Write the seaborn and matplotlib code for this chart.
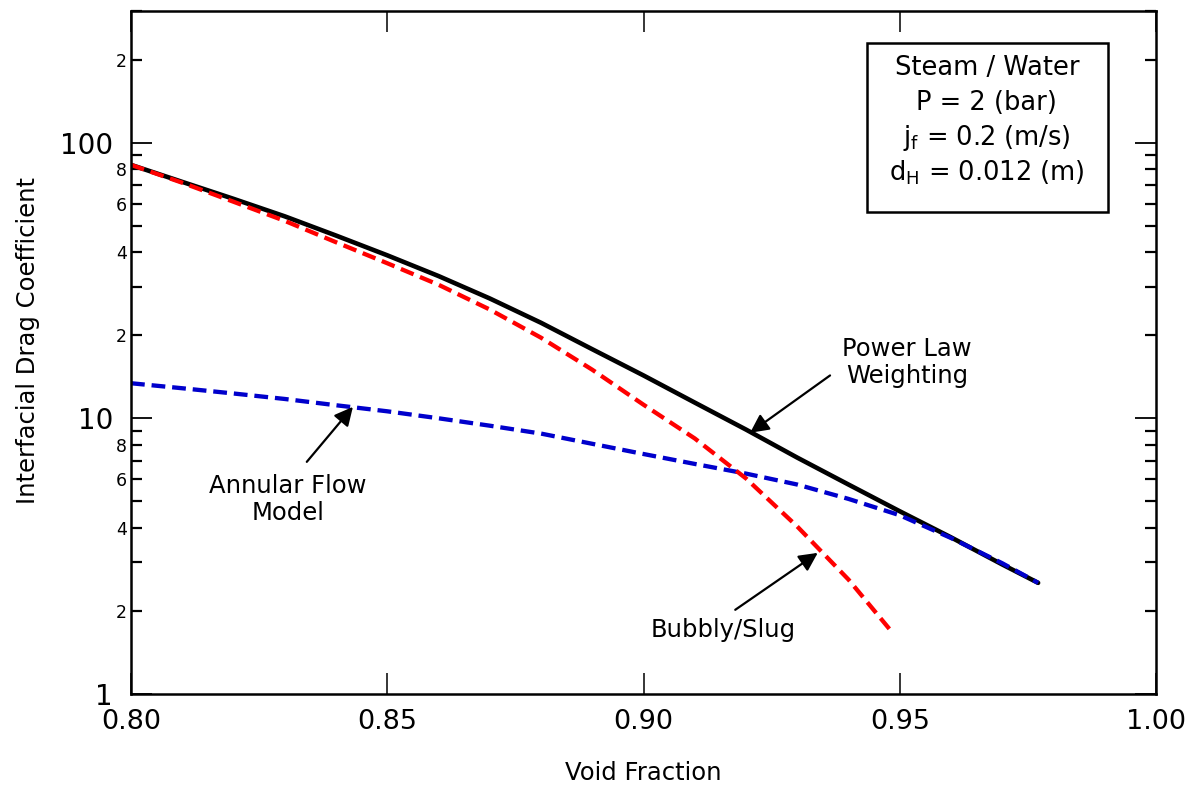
import numpy as np
import pandas as pd
import matplotlib
matplotlib.use("Agg")
import matplotlib.pyplot as plt
from matplotlib.ticker import LogLocator, FuncFormatter, FixedLocator
from matplotlib.patches import Rectangle
import seaborn as sns

# ---- data ----
power_law_x = [0.800, 0.810, 0.820, 0.830, 0.840, 0.850, 0.860, 0.870, 0.880, 0.890,
               0.900, 0.910, 0.920, 0.930, 0.940, 0.950, 0.960, 0.970, 0.977]
power_law_y = [83.0, 72.0, 62.5, 54.0, 46.0, 39.0, 32.8, 27.2, 22.2, 17.8,
               14.3, 11.4, 9.1, 7.2, 5.75, 4.6, 3.7, 2.95, 2.53]

annular_x = [0.800, 0.810, 0.820, 0.830, 0.840, 0.850, 0.860, 0.870, 0.880, 0.890,
             0.900, 0.910, 0.920, 0.930, 0.940, 0.950, 0.960, 0.970, 0.977]
annular_y = [13.4, 12.85, 12.3, 11.75, 11.15, 10.6, 10.0, 9.4, 8.8, 8.08,
             7.42, 6.83, 6.3, 5.75, 5.1, 4.45, 3.68, 2.98, 2.53]

bubbly_x = [0.800, 0.810, 0.820, 0.830, 0.840, 0.850, 0.860, 0.870, 0.880, 0.890,
            0.900, 0.910, 0.920, 0.930, 0.940, 0.948]
bubbly_y = [83.0, 71.5, 61.0, 52.0, 43.5, 36.5, 30.5, 24.8, 19.6, 15.0,
            11.2, 8.45, 6.05, 4.05, 2.6, 1.72]

x_ticks = [0.80, 0.85, 0.90, 0.95, 1.00]
x_tick_labels = ["0.80", "0.85", "0.90", "0.95", "1.00"]

box_lines = ["Steam / Water", "P = 2 (bar)",
             r"$\mathregular{j_f}$ = 0.2 (m/s)", r"$\mathregular{d_H}$ = 0.012 (m)"]

sns.set_style("ticks")
plt.rcParams["font.family"] = ["DejaVu Sans"]
plt.rcParams["text.color"] = "black"
plt.rcParams["axes.labelcolor"] = "black"
plt.rcParams["xtick.color"] = "black"
plt.rcParams["ytick.color"] = "black"
plt.rcParams["axes.edgecolor"] = "black"

fig = plt.figure(figsize=(11.95, 7.86), dpi=100)
ax = fig.add_axes([131 / 1195, 92 / 786, 1025 / 1195, 683 / 786])

df_pl = pd.DataFrame({"x": power_law_x, "y": power_law_y})
df_an = pd.DataFrame({"x": annular_x, "y": annular_y})
df_bs = pd.DataFrame({"x": bubbly_x, "y": bubbly_y})

dash = (0, (3.2, 1.6))
sns.lineplot(data=df_pl, x="x", y="y", ax=ax, color="black", linewidth=3.3,
             sort=False, estimator=None)
sns.lineplot(data=df_an, x="x", y="y", ax=ax, color="#0000cc", linewidth=3.1,
             linestyle=dash, sort=False, estimator=None)
sns.lineplot(data=df_bs, x="x", y="y", ax=ax, color="#ff0000", linewidth=3.1,
             linestyle=dash, sort=False, estimator=None)

ax.set_yscale("log")
ax.set_xlim(0.80, 1.00)
ax.set_ylim(1, 300)

ax.xaxis.set_major_locator(FixedLocator(x_ticks))
ax.set_xticklabels(x_tick_labels)

ax.yaxis.set_major_locator(LogLocator(base=10))
ax.yaxis.set_minor_locator(LogLocator(base=10, subs=np.arange(2, 10)))
ax.yaxis.set_major_formatter(FuncFormatter(lambda v, p: f"{int(round(v))}"))


def minor_fmt(v, p):
    m = v / 10 ** np.floor(np.log10(v) + 1e-9)
    m = int(round(m))
    return str(m) if m in (2, 4, 6, 8) else ""


ax.yaxis.set_minor_formatter(FuncFormatter(minor_fmt))

for s in ax.spines.values():
    s.set_linewidth(1.8)
    s.set_color("black")
    s.set_visible(True)

ax.tick_params(which="both", direction="in", top=True, right=True,
               color="black", labelcolor="black")
ax.tick_params(axis="y", which="major", length=15, width=1.3, labelsize=20, pad=13)
ax.tick_params(axis="y", which="minor", length=8, width=1.6, labelsize=12.5, pad=3)
ax.tick_params(axis="x", which="major", length=15, width=1.1, labelsize=19.5, pad=11)
ax.tick_params(axis="x", which="minor", length=0)

ax.set_xlabel("Void Fraction", fontsize=17.5, color="black")
ax.set_ylabel("Interfacial Drag Coefficient", fontsize=17.5, color="black")
ax.xaxis.set_label_coords(0.5, -0.098)
ax.yaxis.set_label_coords(-0.089, 0.517)
ax.xaxis.label.set_va("top")

# annotations
arrow_kw = dict(arrowstyle="-|>", color="black", lw=1.6, mutation_scale=28,
                shrinkA=0, shrinkB=0)
ax.annotate("", xy=(0.9208, 8.86), xytext=(0.9364, 14.3), arrowprops=arrow_kw)
ax.text(0.9514, 15.9, "Power Law\nWeighting", ha="center", va="center",
        fontsize=17.5, linespacing=1.15, color="black")

ax.annotate("", xy=(0.8433, 11.0), xytext=(0.8343, 6.95), arrowprops=arrow_kw)
ax.text(0.8306, 5.06, "Annular Flow\nModel", ha="center", va="center",
        fontsize=17.5, linespacing=1.15, color="black")

ax.annotate("", xy=(0.934, 3.25), xytext=(0.9179, 2.02), arrowprops=arrow_kw)
ax.text(0.9155, 1.71, "Bubbly/Slug", ha="center", va="center", fontsize=17.5,
        color="black")

# info box
ax.add_patch(Rectangle((0.718, 0.706), 0.235, 0.247, transform=ax.transAxes,
                       fill=True, facecolor="white", edgecolor="black", lw=1.8,
                       zorder=5))
for yy, line in zip([0.9165, 0.8653, 0.8141, 0.7628], box_lines):
    ax.text(0.835, yy, line, transform=ax.transAxes, ha="center", va="center",
            fontsize=18.5, zorder=6, color="black")

fig.savefig("out.png", dpi=100)
